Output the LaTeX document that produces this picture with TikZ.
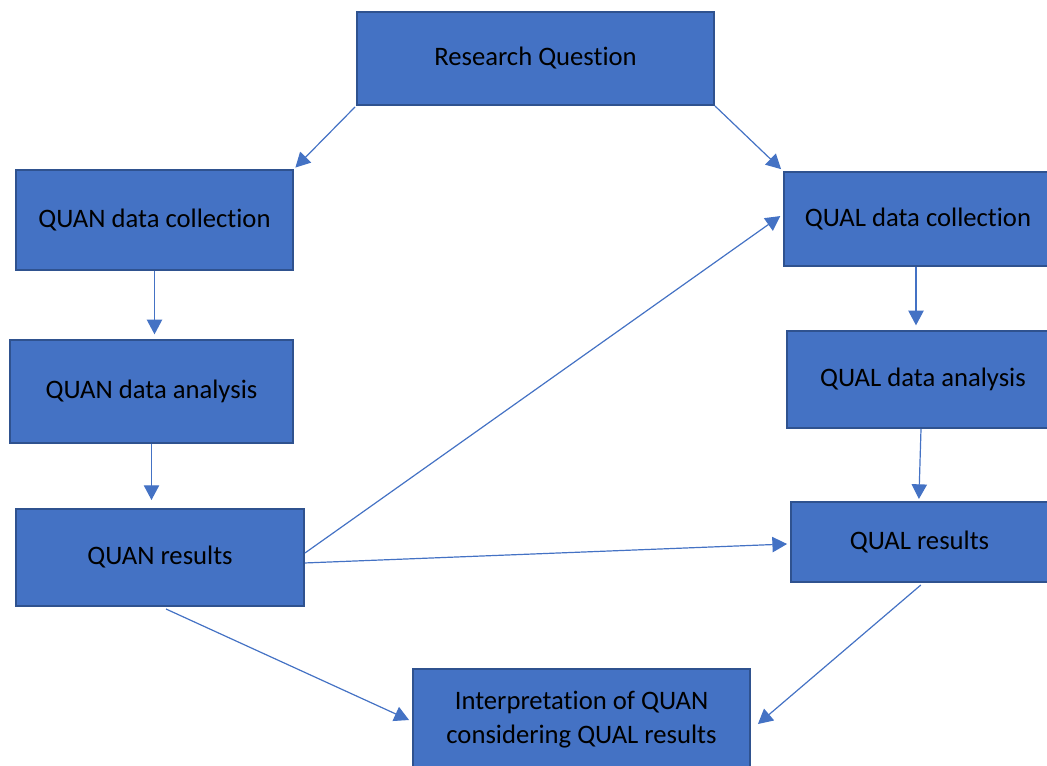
\documentclass[tikz,border=0pt]{standalone}
\usepackage{fontspec}
\setmainfont[Ligatures=NoCommon]{Carlito}
\usetikzlibrary{arrows.meta}
\definecolor{boxfill}{HTML}{4472C4}
\definecolor{boxline}{HTML}{2F528F}
\tikzset{
  stepbox/.style={draw=boxline, fill=boxfill, line width=1.5pt, inner sep=0pt,
    font=\fontsize{20}{26}\selectfont, text=black, align=center},
  conn/.style={draw=boxfill, line width=0.9pt, -{Triangle[length=11pt,width=11.5pt]}}
}
\begin{document}
\begin{tikzpicture}[x=0.75pt,y=-0.75pt]
\useasboundingbox (0,0) rectangle (1047,766);
\clip (0,0) rectangle (1047,766);
\node[stepbox, minimum width=267.75pt, minimum height=69.75pt] (rq) at (535.5,58.5) {Research Question};
\node[stepbox, minimum width=207.75pt, minimum height=75pt] (qndc) at (154.5,220) {QUAN data collection};
\node[stepbox, minimum width=212.25pt, minimum height=77.25pt] (qnda) at (151.5,391.5) {QUAN data analysis};
\node[stepbox, minimum width=216pt, minimum height=72.75pt] (qnr) at (160,557.5) {QUAN results};
\node[stepbox, minimum width=201pt, minimum height=70.5pt] (qldc) at (918,219) {QUAL data collection};
\node[stepbox, minimum width=204pt, minimum height=72.75pt] (qlda) at (923,379.5) {QUAL data analysis};
\node[stepbox, minimum width=192.75pt, minimum height=60pt] (qlr) at (919.5,542) {QUAL results};
\node[stepbox, minimum width=252.75pt, minimum height=75.75pt] (interp) at (581.5,719.5) {Interpretation of QUAN\\considering QUAL results};

\draw[conn, shorten <=1pt, shorten >=1.5pt] (rq.south west) -- (qndc.north east);
\draw[conn, shorten >=2pt] (rq.south east) -- (qldc.north west);
\draw[conn, shorten >=3.5pt] (qndc.south) -- (qndc.south |- qnda.north);
\draw[conn, shorten >=6pt] (qnda.south) -- (qnda.south |- qnr.north);
\draw[conn] ([yshift=3.4pt]qnr.east) -- ([xshift=-2pt,yshift=2.2pt]qldc.west);
\draw[conn] ([yshift=-4.1pt]qnr.east) -- ([xshift=-2.2pt,yshift=-1.5pt]qlr.west);
\draw[conn, shorten >=3.5pt] ([xshift=-1.5pt]qldc.south) -- ([xshift=-1.5pt]qldc.south |- qlda.north);
\draw[conn, shorten >=1.5pt] ([xshift=-1.5pt]qlda.south) -- ([xshift=-0.5pt]qlr.north);
\draw[conn] ([xshift=4.5pt,yshift=-1.5pt]qnr.south) -- ([xshift=-2.2pt,yshift=-0.4pt]interp.west);
\draw[conn] ([xshift=1pt,yshift=-1.5pt]qlr.south) -- ([xshift=5.2pt,yshift=-3.4pt]interp.east);
\end{tikzpicture}
\end{document}
